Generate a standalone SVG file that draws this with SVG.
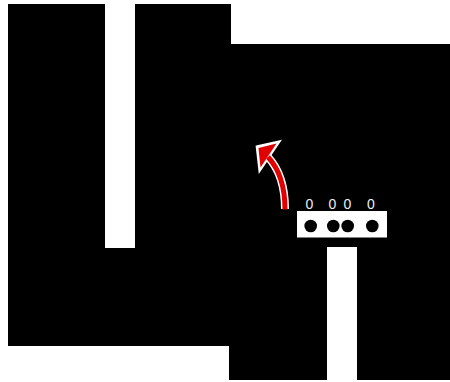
<svg xmlns="http://www.w3.org/2000/svg" width="450" height="382" viewBox="0 0 450 382">
<style>
.blk{fill:#000;}
.lbl{font-family:"Liberation Sans",Arial,sans-serif;font-size:14px;fill:#eeeeee;text-anchor:middle;}
.dot{fill:#000;}
</style>
<rect width="450" height="382" fill="#fff"/>
<g id="block-left"><path class="blk" d="M8 4 H105 V248 H135 V4 H231 V346 H8 Z"/></g>
<g id="block-right"><path class="blk" d="M229 44 H450 V380 H357 V247 H327 V380 H229 Z"/></g>
<g id="panel">
<rect x="297" y="211" width="90" height="26.5" fill="#fff"/>
<circle class="dot" cx="310.7" cy="226" r="6.3"/>
<circle class="dot" cx="333.3" cy="226" r="6.3"/>
<circle class="dot" cx="347.7" cy="226" r="6.3"/>
<circle class="dot" cx="372.3" cy="226" r="6.3"/>
<text class="lbl" x="309.5" y="208.5">0</text>
<text class="lbl" x="332.5" y="208.5">0</text>
<text class="lbl" x="347.5" y="208.5">0</text>
<text class="lbl" x="371" y="208.5">0</text>
</g>
<g id="connectors">
<path d="M285 209 C285 190 281 171 268 157" fill="none" stroke="#fff" stroke-width="8"/>
<polygon points="257.5,147 278,142.5 260,169" fill="#fff" stroke="#fff" stroke-width="3.5" stroke-linejoin="miter"/>
<path d="M285 209.5 C285 190 281 171 268 157" fill="none" stroke="#e00000" stroke-width="5"/>
<polygon points="258.5,148 276.5,143.5 260.5,167.5" fill="#e00000"/>
</g>
</svg>
